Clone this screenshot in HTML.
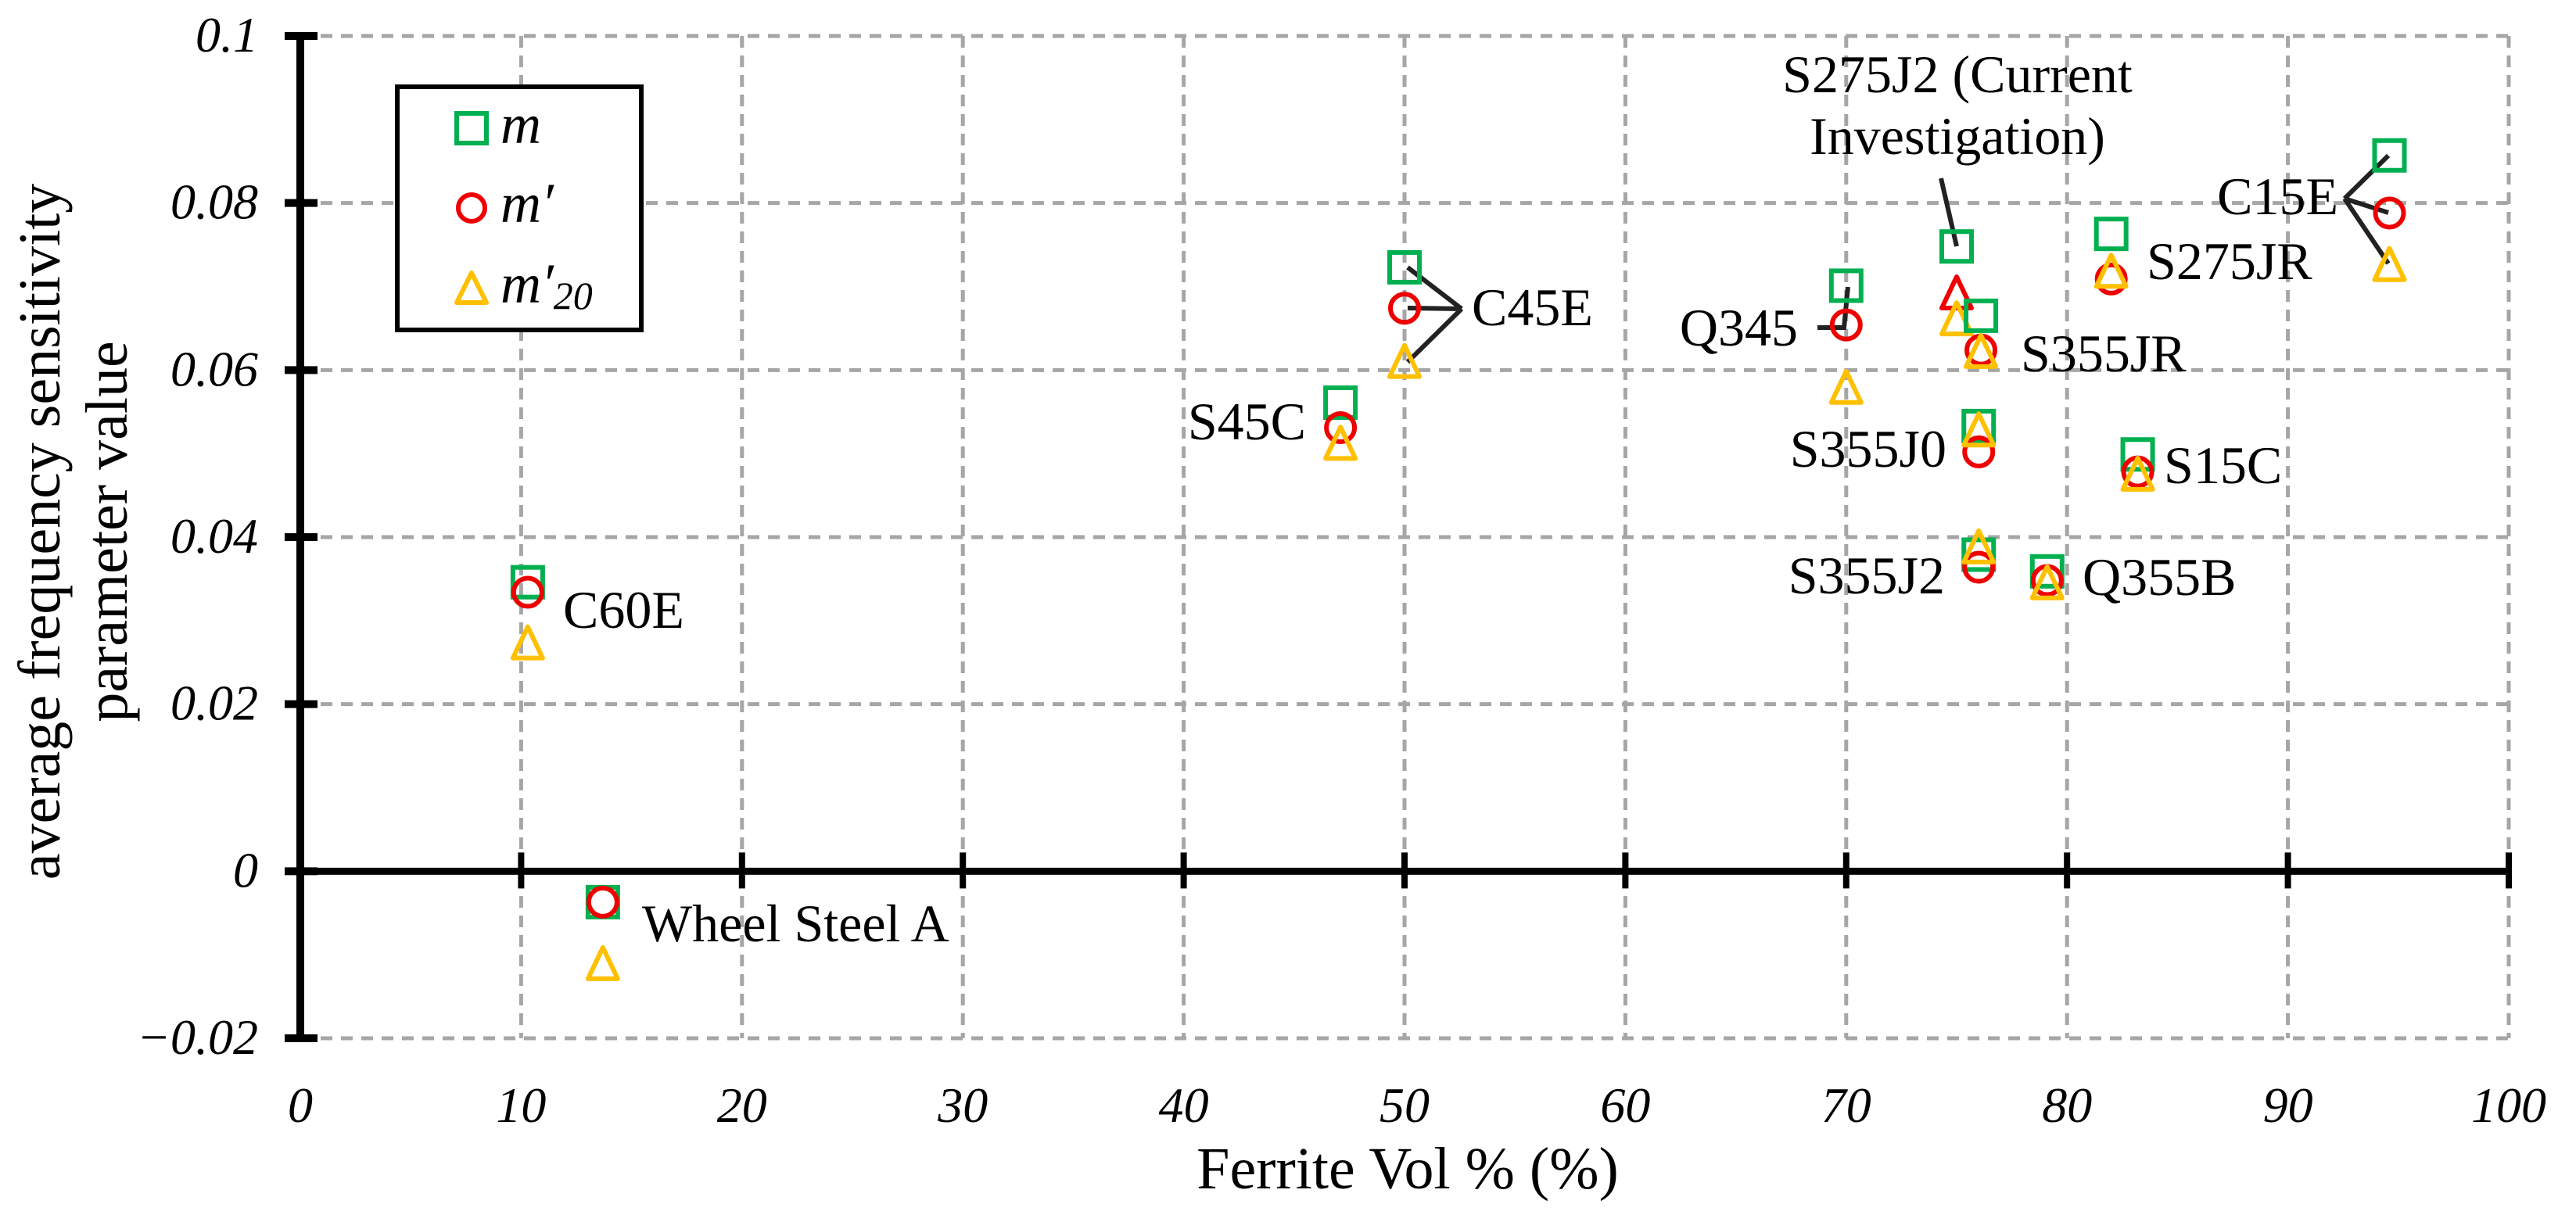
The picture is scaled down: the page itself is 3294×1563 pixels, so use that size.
<!DOCTYPE html>
<html><head><meta charset="utf-8"><style>
html,body{margin:0;padding:0;background:#fff;}
svg{display:block;}
svg text{font-family:"Liberation Serif", serif;}
</style></head><body>
<svg id="chart" width="3294" height="1563" viewBox="0 0 3294 1563" xmlns="http://www.w3.org/2000/svg">
<rect width="3294" height="1563" fill="#fff"/>
<g id="grid"></g>
<g id="axes"></g>
<g id="leaders" stroke="#222" stroke-width="6" fill="none"></g>
<g id="marks"></g>
<g id="labels" style="font-family:'Liberation Serif', serif;font-size:68px" fill="#000">
  <text x="2503" y="118" text-anchor="middle">S275J2 (Current</text>
  <text x="2503" y="197" text-anchor="middle">Investigation)</text>
  <text x="2990" y="274" text-anchor="end">C15E</text>
  <text x="2745" y="357">S275JR</text>
  <text x="2299" y="442" text-anchor="end">Q345</text>
  <text x="2584" y="475">S355JR</text>
  <text x="2489" y="597" text-anchor="end">S355J0</text>
  <text x="2767" y="618">S15C</text>
  <text x="2487" y="759" text-anchor="end">S355J2</text>
  <text x="2663" y="761">Q355B</text>
  <text x="720" y="803">C60E</text>
  <text x="821" y="1204">Wheel Steel A</text>
  <text x="1670" y="562" text-anchor="end">S45C</text>
  <text x="1882" y="416">C45E</text>
</g>
<g id="legend">
  <rect x="508" y="111" width="312" height="311" fill="#fff" stroke="#000" stroke-width="6"/>
  <rect x="584" y="145" width="38" height="38" fill="none" stroke="#00b050" stroke-width="6"/>
  <circle cx="603" cy="266" r="17" fill="none" stroke="#ee0000" stroke-width="6"/>
  <polygon points="603,349 584,387 622,387" fill="none" stroke="#ffc000" stroke-width="6" stroke-linejoin="round"/>
  <g style="font-family:'Liberation Serif', serif;font-style:italic;font-size:72px" fill="#000">
    <text x="640" y="183">m</text>
    <text x="640" y="284">m′</text>
    <text x="640" y="387">m′<tspan style="font-size:50px" dy="8">20</tspan></text>
  </g>
</g>
<text x="1800" y="1520" text-anchor="middle" style="font-family:'Liberation Serif', serif;font-size:76px">Ferrite Vol % (%)</text>
<g style="font-family:'Liberation Serif', serif;font-size:76px">
  <text transform="translate(76,680) rotate(-90)" text-anchor="middle">average frequency sensitivity</text>
  <text transform="translate(162,680) rotate(-90)" text-anchor="middle">parameter value</text>
</g>
</svg>
<script>
const xTicks = [0,10,20,30,40,50,60,70,80,90,100];
const yTicks = [-0.02,0,0.02,0.04,0.06,0.08,0.1];
const yTickLabels = ["\u22120.02","0","0.02","0.04","0.06","0.08","0.1"];
const steels = ["C60E","Wheel Steel A","S45C","C45E","Q345","S275J2","S355JR","S355J0","S355J2","Q355B","S275JR","S15C","C15E"];
const ferrite = [10.3,13.7,47.1,50.0,70.0,75.0,76.1,76.0,76.0,79.1,82.0,83.2,94.6];
const mVals = [0.0346,-0.0037,0.0561,0.0723,0.0701,0.0748,0.0665,0.0533,0.0379,0.0359,0.0763,0.0499,0.0857];
const mPrimeVals = [0.0334,-0.0037,0.0531,0.0674,0.0654,0.0692,0.0624,0.0502,0.0364,0.0348,0.0709,0.0478,0.0788];
const m20Vals = [0.0273,-0.0111,0.0512,0.0610,0.0579,0.0661,0.0622,0.0528,0.0388,0.0345,0.0718,0.0475,0.0726];

const NS = "http://www.w3.org/2000/svg";
const X0 = 384, X1 = 3208, YTOP = 46, YBOT = 1328;
function xs(v){ return X0 + (v/100)*(X1-X0); }
function ys(v){ return YBOT - (v+0.02)/0.12*(YBOT-YTOP); }
function mk(tag, attrs, parent){
  const e = document.createElementNS(NS, tag);
  for (const k in attrs) e.setAttribute(k, attrs[k]);
  parent.appendChild(e);
  return e;
}
const grid = document.getElementById('grid');
const axes = document.getElementById('axes');
const marks = document.getElementById('marks');
const leaders = document.getElementById('leaders');
const tickStyle = "font-family:'Liberation Serif', serif;font-style:italic;font-size:64px";

yTicks.forEach((t,i)=>{
  if (t !== 0) {
    const g = mk('line',{x1:X0,x2:X1,y1:ys(t),y2:ys(t),stroke:'#a6a6a6','stroke-width':5,'stroke-dasharray':'15 11'},grid);
    
    
  }
  const tk = mk('line',{x1:364,x2:406,y1:ys(t),y2:ys(t),stroke:'#000','stroke-width':10},axes);
  
  
  const lb = mk('text',{x:330,y:ys(t)+20,'text-anchor':'end',style:tickStyle},axes);
  lb.textContent = yTickLabels[i];
  
  
});
xTicks.forEach(t=>{
  if (t !== 0) {
    const g = mk('line',{x1:xs(t),x2:xs(t),y1:YTOP,y2:YBOT,stroke:'#a6a6a6','stroke-width':5,'stroke-dasharray':'15 10'},grid);
    
    
    const tk = mk('line',{x1:xs(t),x2:xs(t),y1:ys(0)-24,y2:ys(0)+22,stroke:'#000','stroke-width':8},axes);
    
    
  }
  const lb = mk('text',{x:xs(t),y:1435,'text-anchor':'middle',style:tickStyle},axes);
  lb.textContent = String(t);
  
  
});
const ya = mk('line',{x1:X0,x2:X0,y1:YTOP,y2:YBOT,stroke:'#000','stroke-width':10},axes);


const xa = mk('line',{x1:X0-8,x2:X1,y1:ys(0),y2:ys(0),stroke:'#000','stroke-width':9},axes);



const leaderPaths = [
  "M1869,395 L1800,342 M1869,395 L1800,394 M1869,395 L1800,463",
  "M2998,254 L3054,199 M2998,254 L3054,272 M2998,254 L3054,337",
  "M2482,228 L2502,315",
  "M2324,419 L2358,419 L2363,367"
];
leaderPaths.forEach(d=>{
  const p = mk('path',{d:d},leaders);
  
  
});

steels.forEach((s,i)=>{
  const x = xs(ferrite[i]);
  const sq = mk('rect',{x:x-19,y:ys(mVals[i])-19,width:38,height:38,fill:'none',stroke:'#00b050','stroke-width':6},marks);
  
  
  if (s === 'S275J2') {
    const cy = ys(mPrimeVals[i]);
    const tr = mk('polygon',{points:`${x},${cy-21} ${x-19},${cy+19} ${x+19},${cy+19}`,fill:'none',stroke:'#ee0000','stroke-width':6,'stroke-linejoin':'round'},marks);
    
    
  } else {
    const c = mk('circle',{cx:x,cy:ys(mPrimeVals[i]),r:18,fill:'none',stroke:'#ee0000','stroke-width':6},marks);
    
    
  }
  const cy = ys(m20Vals[i]);
  const t = mk('polygon',{points:`${x},${cy-21} ${x-19},${cy+19} ${x+19},${cy+19}`,fill:'none',stroke:'#ffc000','stroke-width':6,'stroke-linejoin':'round'},marks);
  
  
});
</script>
</body></html>
